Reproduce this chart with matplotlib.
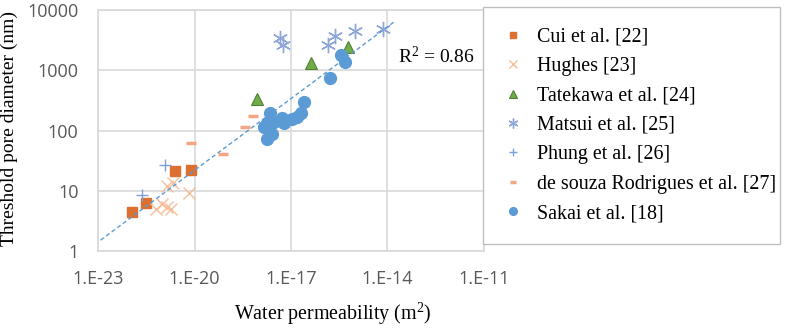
import matplotlib
matplotlib.use("Agg")
import matplotlib.pyplot as plt
import numpy as np

# permeability (m2), threshold pore diameter (nm)
cui_k = [1.17e-22, 3.2e-22, 2.4e-21, 7.6e-21]
cui_d = [4.4, 6.3, 21.5, 22]

hughes_k = [6.2e-22, 1.0e-21, 1.4e-21, 1.9e-21, 2.1e-21, 1.4e-21, 6.8e-21]
hughes_d = [4.9, 6.0, 5.4, 5.0, 13.7, 12, 9.3]

tatekawa_k = [8.9e-19, 4.1e-17, 6.0e-16]
tatekawa_d = [328, 1300, 2450]

matsui_k = [4.7e-18, 5.6e-18, 1.4e-16, 2.3e-16, 9.5e-16, 7.1e-15]
matsui_d = [3370, 2600, 2600, 3700, 4500, 4900]

phung_k = [1.2e-21, 2.3e-22]
phung_d = [26.7, 8.5]

souza_k = [7.6e-21, 7.6e-20, 3.7e-19, 6.5e-19]
souza_d = [63, 40, 115, 173]

sakai_k = [1.45e-18, 1.8e-18, 2.3e-18, 2.95e-18, 1.8e-18, 2.5e-18, 5.1e-18,
           6.0e-18, 1.07e-17, 1.55e-17, 2.0e-17, 2.5e-17, 1.6e-16, 3.7e-16, 4.7e-16]
sakai_d = [115, 131, 196, 139, 71, 88, 159, 131, 153, 169, 192, 300, 730, 1780, 1380]

# power-law trendline: log10(d) = slope * log10(k) + intercept
trend_slope = 0.397
trend_intercept = 9.279
trend_range = [1.2e-23, 1.55e-14]
r2_text = r"R$^2$ = 0.86"

xticks = [1e-23, 1e-20, 1e-17, 1e-14, 1e-11]
xtick_labels = ["1.E-23", "1.E-20", "1.E-17", "1.E-14", "1.E-11"]
yticks = [1, 10, 100, 1000, 10000]
ytick_labels = ["1", "10", "100", "1000", "10000"]

serif = "Liberation Serif"
tickfont = "Open Sans"
plt.rcParams["mathtext.fontset"] = "custom"
plt.rcParams["mathtext.rm"] = serif
plt.rcParams["mathtext.default"] = "rm"

W, H = 787, 328
fig = plt.figure(figsize=(W / 100, H / 100), dpi=100)
ax = fig.add_axes([98 / W, 1 - 251 / H, (484 - 98) / W, (251 - 10) / H])

ax.plot(cui_k, cui_d, ls="none", marker="s", ms=7.5, color="#DB7030", mec="#DB7030",
        label="Cui et al. [22]", zorder=3)
ax.plot(hughes_k, hughes_d, ls="none", marker="x", ms=9, mew=1.0, color="#F6BE9A",
        label="Hughes [23]", zorder=3)
ax.plot(tatekawa_k, tatekawa_d, ls="none", marker="^", ms=9, color="#70AD47",
        mec="#4F7F3A", mew=0.8, label="Tatekawa et al. [24]", zorder=3)
ax.plot(matsui_k, matsui_d, ls="none", marker=(6, 2, 0), ms=11, mew=1.0, color="#8EA6D8",
        label="Matsui et al. [25]", zorder=3)
ax.plot(phung_k, phung_d, ls="none", marker="+", ms=9, mew=1.0, color="#7F9FD8",
        label="Phung et al. [26]", zorder=3)
ax.plot(souza_k, souza_d, ls="none", marker="_", ms=7, mew=2.5, color="#F4A582",
        label="de souza Rodrigues et al. [27]", zorder=3)
ax.plot(sakai_k, sakai_d, ls="none", marker="o", ms=8.5, color="#5B9BD5", mec="#5B9BD5",
        label="Sakai et al. [18]", zorder=4)

tk = np.array(trend_range)
ax.plot(tk, 10 ** (trend_slope * np.log10(tk) + trend_intercept), ls=(0, (3, 2)),
        lw=1.0, color="#5B9BD5", zorder=5)

ax.set_xscale("log")
ax.set_yscale("log")
ax.set_xlim(1e-23, 1e-11)
ax.set_ylim(1, 10000)
ax.set_xticks(xticks)
ax.set_xticklabels(xtick_labels)
ax.set_yticks(yticks)
ax.set_yticklabels(ytick_labels)
ax.minorticks_off()
ax.tick_params(length=0, labelsize=13, labelcolor="#595959")
ax.tick_params(axis="x", pad=14)
ax.tick_params(axis="y", pad=14)
for lab in ax.get_xticklabels() + ax.get_yticklabels():
    lab.set_family(tickfont)
ax.grid(True, color="#d9d9d9", lw=1.2)
ax.set_axisbelow(True)
for s in ax.spines.values():
    s.set_color("#d9d9d9")
    s.set_linewidth(1.2)

ax.text(398 / W, 1 - 63 / H, r2_text, transform=fig.transFigure, family=serif,
        fontsize=14, va="baseline", ha="left")

fig.text(333 / W, 1 - 314 / H, r"Water permeability (m$^2$)", family=serif, fontsize=14.4,
         ha="center", va="center")
fig.text(9 / W, 1 - 128 / H, "Threshold pore diameter (nm)", family=serif, fontsize=14,
         ha="center", va="center", rotation=90)

leg = ax.legend(loc="upper left", bbox_to_anchor=(483 / W, 1 - 10 / H, 297 / W, 0.01),
                bbox_transform=fig.transFigure, mode="expand", borderaxespad=0,
                prop={"family": serif, "size": 14.4}, frameon=True, fancybox=False,
                edgecolor="#bfbfbf", framealpha=1, markerscale=0.65,
                handlelength=0.9, handletextpad=0.75, labelspacing=0.52, borderpad=1.05)
leg.get_frame().set_linewidth(1.0)
leg.set_zorder(10)

fig.savefig("out.png", dpi=100)
